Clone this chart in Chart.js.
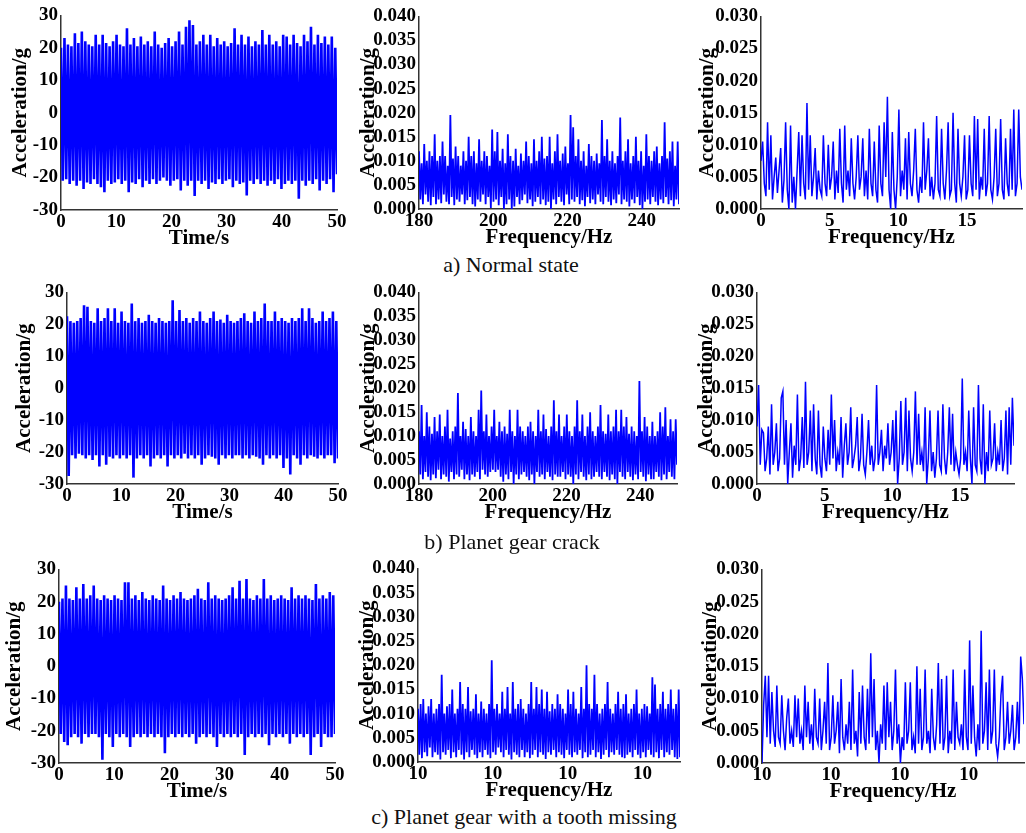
<!DOCTYPE html>
<html>
<head>
<meta charset="utf-8">
<script src="https://cdn.jsdelivr.net/npm/chart.js@4.4.1/dist/chart.umd.min.js"></script>
<style>
  body { margin: 0; background: #fff; width: 1026px; height: 833px; position: relative; overflow: hidden;
         font-family: "Liberation Serif", "Times New Roman", serif; }
  canvas { position: absolute; }
  .cap { position: absolute; font-size: 22px; white-space: nowrap; transform: translateX(-50%); color: #111; }
</style>
</head>
<body>
<canvas id="a1"></canvas><canvas id="a2"></canvas><canvas id="a3"></canvas>
<canvas id="b1"></canvas><canvas id="b2"></canvas><canvas id="b3"></canvas>
<canvas id="c1"></canvas><canvas id="c2"></canvas><canvas id="c3"></canvas>
<div class="cap" style="left:511px;top:252px">a) Normal state</div>
<div class="cap" style="left:512px;top:529px">b) Planet gear crack</div>
<div class="cap" style="left:524px;top:804px">c) Planet gear with a tooth missing</div>
<script>
// tick values / labels
const timeTicks = [0, 10, 20, 30, 40, 50];
const meshTicks = [180, 200, 220, 240];
const lowTicks = [0, 5, 10, 15];
const missingToothTickLabels = ['10', '10', '10', '10'];

// time signals, g (peak / trough samples over 0-50 s)
const normalTime = [
  20,-21,23,-20.5,21,-22,20.5,-21,24.5,-22.5,21.5,-21,25,-23.5,22,-21.5,21,-22,20.5,-20.5,
  24,-22,21,-23,24,-24.5,21.5,-21,20.5,-22,22,-21.5,24,-20.5,21,-22,20.5,-21,26,-24.5,
  21,-21.5,23,-22,20.5,-20.5,23.5,-23,21,-21,22,-22,20.5,-20.5,25,-22,21,-21,20,-20,
  21.5,-21,23,-22.5,20.5,-21,22,-20.5,25,-24,21,-21,26.5,-22.5,28.5,-21,27,-25.7,21,-21,
  22,-22,24,-21,21,-23.5,24,-21.5,20.5,-22,23,-20.5,21,-22,22,-21,20.5,-20.5,21.5,-23,
  26,-21,21,-22,24,-21.5,21,-25.5,23.5,-21,20.5,-22,22,-20.5,21,-22,25.5,-21,21,-22.5,
  24,-21,21,-22,22,-20.5,20.5,-23.5,24,-22,23.5,-21,21,-22,24,-21,21.5,-26.5,20.5,-21,
  24,-22.5,22,-21,26.5,-22,21,-20.5,24,-24,21.5,-21,23.5,-22,21,-20.5,23.5,-24.5,20,-19
];
const crackTime = [
  22.5,-27.5,21,-21,20.5,-22,21,-20.5,22,-21,26,-22,25.5,-21,21,-22.5,20.5,-21,25,-24.5,
  21,-21,22,-24,25,-21.5,21,-22,25,-21,20.5,-22,24,-21,21,-22,20.5,-21,26.5,-28,
  21,-22,22,-21,20.5,-22,21,-21,23,-24.5,21,-22,20.5,-21,22,-22,21,-21,20.5,-24.5,
  21,-21,27.5,-22,21,-21,24.5,-22,21,-20.5,22,-22,20.5,-21,22,-22,21,-21,24,-24,
  21,-22,20.5,-21,22,-21.5,24,-22,21,-24,21.5,-21,20.5,-22,23,-21,21,-22,20.5,-21,
  21,-21,22,-22,23.5,-21,21,-22,20.5,-21,24,-21.5,21,-22,22,-24,26.5,-21,21,-22,
  21,-21,24,-22,21,-21,22,-25,21,-22,20.5,-27,22,-21,21,-22,22,-24,25,-21,
  21,-22,25,-21,22,-21.5,20.5,-22,21,-21,24,-22,21,-21,22,-21,24,-23.5,21,-22
];
const missingTime = [
  20,-21,21,-23.5,25,-24.5,21,-22,20.5,-21,24.5,-22,21,-24,25.5,-21,21,-22,22,-21,
  25,-21,21,-22,20.5,-29,22,-21,21,-22,20.5,-25,22,-21,21,-22,20.5,-21,26,-22,
  26,-25,21,-22,22,-21,20.5,-22,23,-21,21,-22,20.5,-21,22,-22,21,-21,20.5,-22,
  25,-27,21,-22,20.5,-21,22,-22,21,-21,23,-22,21,-21,20.5,-22,21,-21,22,-24,
  24,-22,21,-21,20.5,-22,26,-21,21,-22,22,-25,21,-21,20.5,-22,21,-21,22,-22,
  24.5,-21,21,-22,26.5,-21,21,-27.5,27,-22,21,-21,20.5,-22,22,-21,21,-22,27,-21,
  21,-24.5,22,-21,20.5,-22,21,-21,22,-22,21,-21,20.5,-24,24.5,-21,21,-22,22,-21,
  21,-22,22,-21,21,-27.5,20.5,-22,25.5,-21,21,-25,22,-21,21,-22,23,-22,22,-21
];

// spectra 180-250 Hz, mg
const normalMesh = [
  12,2,9.5,1,13.5,3,10,1.5,12,0.8,11,2.5,15.5,1,10,2,11,1.2,14,3,
  11,1.5,9,1,19.5,2.5,10.5,0.8,13,2,11,1.5,9,3,12,1,10,1.8,15,2.5,
  11,1,12,0.5,9.5,2,14.5,1.5,10,3,12,1,11,2.5,9,0.2,16.5,1.5,12,2,
  16,0.8,10,2.5,12.5,0,9.5,1,15.5,2,11,0,10,0.5,12.5,2.5,9,1,11.5,1.8,
  10,3,14,1.2,11,2,9.5,0.6,14.5,1.5,10,2.5,12,1,15,2,10.5,0.8,11,1.5,
  15,0,9.5,2,12,1,15.5,2.5,10,1.5,11.5,0.8,13,3,9.5,1,19.5,2,17,1.5,
  11,2.5,14.5,1,10,1.8,12,0.6,9,2.5,13.5,1.2,11,2,10,1,11.5,3,9.5,1.5,
  18.5,1,11,2.5,14.5,1.5,10,0.8,12,2,9.5,1.2,11,3,19,1,10,2,12,1.5,
  14.5,0.5,9.5,2,11,1.2,15,2.5,10,0.8,12,0,9,1.5,15.5,2,11,1,10,2.5,
  12,1.5,13,0.8,9.5,2,11,1.2,18,2.5,10.5,1,12,1.8,14,0.6,9,2,14,1
];
const crackMesh = [
  11,2,16.5,1,10,2.5,15,1.5,12,0.8,10.5,2,14,1.2,11,3,14.5,1,10,2,
  12,1.5,15.5,0.5,9.5,2.5,11,1,12,2,19,1.5,10,3,13,1,11.5,2,10,0.8,
  14,2,11,1.5,10,2.5,15.5,1,19.5,3,11,2,14.5,1.5,10,2.5,12,3,15.5,2.5,
  10,3,13,1.5,11,0.5,12,2,10.5,1,15.5,2.5,11,0,10,2,15.5,1,12,2,
  11,2.5,10,1.5,12,0.8,13,2,11,0,10,2.5,15.5,1.5,11,2,14.5,1,11.5,2.5,
  10,1.5,12,0.8,17.5,2,11,1.5,14.5,1.5,10,2.5,12,1,14.5,2,11,1.5,10,0,
  12,2,17.5,1,11,2.5,14.5,1.5,10,0.8,12,2,15,1,11,1.5,10,2.5,12,1.5,
  16.5,1,11,2.5,10.5,1.5,14.5,0.8,11,2,12,1,15.5,0,11,2.5,15.5,1.5,12,1,
  14,2.5,10.5,1.5,12,0.8,11,2,10,1,21.5,2.5,11,1.5,14,0.6,12,2,10,1,
  13,1,10,2.5,11,1.5,15,0.8,12,2,16,1,10,2.5,13.5,1.5,11,1,13.5,4
];
const missingMesh = [
  11,1.5,12,0.8,13,2,10,1.2,11.5,3,13,1,10,2,11,1.5,12,0.5,18,2,
  10,1.5,11.5,2.5,12,0.8,15,2,10,1,11,2.5,16.5,1.5,12,0.5,11,2,15.5,1,
  10.5,2.5,11,1.5,14,0.8,10,2,12.5,1,11,2.5,10,1.5,12,0.8,21,2,11,1.5,
  12,3,10,2,14.5,1,11,2.5,15.5,1.5,10,0.5,16.5,2,11,1.5,12,1,13,2.5,
  11,1,10,2,12,0.8,16.5,1.5,11,2.5,15.5,1,12,2,15,1.5,11,0.6,14.5,2,
  10.5,1.5,12,2.5,11,1,14,2,12,1.5,11,0.8,10,2.5,15,1.5,12,1,14.5,2,
  11,1.5,10,2.5,15.5,0.8,11,2,20,1,12,1.5,11,2.5,18,1,12,2,10,0.6,
  11,1.5,12,2.5,16.5,1,11,2,10,1.5,12,2.5,14.5,1.5,11,1,12,0.8,14,1.5,
  10,2,11,1,12,2.5,15,1.5,10,0.8,11,2,12,1,11.5,2.5,10,1.5,17.5,1,
  16,2,11,0.8,12,2.5,14.5,1,11,2,12,1.5,15,2.5,11,1,12,0.6,15,1
];

// spectra 0-19 Hz, mg
const normalLow = [
  7.5,10.5,4,2,13.5,3,11.5,1.5,5,8,2.5,6,9.5,1,4.5,13.5,3,0,13,1,
  5,0,6,12,2,11.5,4,1.5,16.5,3,11.5,2,5,9.5,1.5,6,3,2,11.5,4,
  2,10,3,5,10.5,1.5,6,2.5,12.5,4,1,13,3,6,2,11,4,1.5,5,11.5,
  3,5,11,2,6,1.5,12.5,4,2,10.5,3,1,13,4,2,13.5,5,17.5,3,0,
  12,3,0,5,15.5,2,6,3,11,1.5,12,4,2,6,12.5,3,1,5,2.5,13.5,
  3,6,11,2,5,1.5,4,14.5,3,2,12.5,4,1.5,6,13.5,2,3,15,4,1,
  12.5,4,2,5,11.5,1.5,3,11.5,4,2,14.5,3,14,1.5,5,3,12.5,2,4,14.5,
  3,1.5,5,12.5,2,4,14,3,1.5,11,4,2,12.5,3,15.5,2,4,15.5,5,3
];
const crackLow = [
  9,15.5,3,8.5,8,2,4,9,1.5,12.5,3,5,9.5,2,4,13.5,14.5,3,10,0,
  5,9.5,1,6,3,14,2,4,10.5,2.5,16,3,5,11.5,2,12.5,4,1.5,11.5,3,
  1,9,4,2,8.5,3,14,4,10,2,5,3,10.5,1,6,9.5,3,5,12,2.5,
  4,6,10.5,2,4,11,3,1.5,5,10,3,6,2,4,15.5,3,5,8.5,2,6,
  4,9.5,3,5,10,2,11.5,0,4,13,3,5,13.5,2,11.5,4,2,5,14.5,3,
  11,3,5,2,12,0,4,11.5,2,5,1,4,11.5,3,2,12.5,4,1.5,5,12,
  3,11,2,5,3,1.5,4,16.5,3,5,2,11.5,4,0,12,3,2,15.5,4,1.5,
  12.5,0,5,2,11.5,3,4,9.5,2,5,3,10,2,4,11.5,1.5,12,3,13.5,6
];
const missingLow = [
  0,9,13.5,4,13.5,3,11,5,2.5,12,4,3,10.5,5,2,7,10,3,5,2.5,
  10.5,4,10,3,5,2,12,4,9.5,3,6,2,11.5,4,3,10,2,5,9.5,3,
  15.5,2,4,10.5,3,5,9.5,1.5,13,4,2,6,3,9.5,2,14.5,3,5,1,11,
  3,12,4,2,11.5,3,17,4,13,2,5,0,6,3,12,2,12.5,4,9.5,2,
  5,14.5,3,6,0,4,2,12.5,3,5,12.5,2,4,1.5,15,3,11.5,2,4,14.5,
  3,5,1.5,11.5,4,2,6,15.5,3,13,2,4,13.5,1.5,5,3,14.5,2,9.5,4,
  3,6,2,14.5,4,2,19,3,12,4,1,6,2,20.5,3,5,12.5,2,14.5,3,
  5,14.5,3,1,4,10.5,13.5,2,4,9.5,3,5,9,2,4,9.5,3,16.5,13,6
];

const BLUE = '#0000ff';
const AXIS = '#333333';
const PAD_T = 12, PAD_R = 14, AX_H = 41;
const serif = '"Liberation Serif", "Times New Roman", serif';

function series(values, x0, x1, scale) {
  const n = values.length;
  return values.map((v, i) => ({ x: x0 + (x1 - x0) * i / (n - 1), y: v * scale }));
}

function panel(id, box, axW, cfg) {
  const [l, t, r, b] = box;
  const cv = document.getElementById(id);
  const w = r - l + axW + PAD_R, h = b - t + PAD_T + AX_H;
  cv.width = w; cv.height = h;
  cv.style.left = (l - axW) + 'px';
  cv.style.top = (t - PAD_T) + 'px';
  new Chart(cv.getContext('2d'), {
    type: 'line',
    data: { datasets: [{
      data: series(cfg.values, cfg.xMin, cfg.xMax, cfg.scale),
      borderColor: BLUE, borderWidth: cfg.lw, pointRadius: 0, tension: 0, fill: false
    }] },
    options: {
      responsive: false, animation: false, devicePixelRatio: 1,
      layout: { padding: { top: PAD_T, right: PAD_R, left: 0, bottom: 0 } },
      plugins: { legend: { display: false }, tooltip: { enabled: false } },
      scales: {
        x: {
          type: 'linear', min: cfg.xMin, max: cfg.xMax,
          afterBuildTicks: s => { s.ticks = cfg.xTicks.map(v => ({ value: v })); },
          afterFit: s => { s.height = AX_H; },
          grid: { display: false, drawTicks: false },
          border: { display: true, color: AXIS, width: 1.5 },
          ticks: {
            autoSkip: false, maxRotation: 0, padding: 1, color: '#000',
            font: { family: serif, size: 19, weight: 'bold' },
            callback: (v, i) => cfg.xLabels ? cfg.xLabels[i] : String(v)
          },
          title: { display: true, text: cfg.xTitle, color: '#000', padding: 0,
                   font: { family: serif, size: 21, weight: 'bold' } }
        },
        y: {
          min: cfg.yMin, max: cfg.yMax,
          afterFit: s => { s.width = axW; },
          grid: { display: false, drawTicks: false },
          border: { display: true, color: AXIS, width: 1.5 },
          ticks: {
            autoSkip: false, stepSize: cfg.yStep, padding: 3, color: '#000',
            font: { family: serif, size: 19, weight: 'bold' },
            callback: v => v.toFixed(cfg.yDec)
          },
          title: { display: true, text: 'Acceleration/g', color: '#000', padding: 0,
                   font: { family: serif, size: 21, weight: 'bold' } }
        }
      }
    }
  });
}

const timeCfg = v => ({ values: v, scale: 1, lw: 2.6, xMin: 0, xMax: 50, xTicks: timeTicks,
  xTitle: 'Time/s', yMin: -30, yMax: 30, yStep: 10, yDec: 0 });
const meshCfg = (v, lab) => ({ values: v, scale: 0.001, lw: 1.8, xMin: 180, xMax: 250, xTicks: meshTicks,
  xLabels: lab, xTitle: 'Frequency/Hz', yMin: 0, yMax: 0.04, yStep: 0.005, yDec: 3 });
const lowCfg = (v, lab) => ({ values: v, scale: 0.001, lw: 1.5, xMin: 0, xMax: 19, xTicks: lowTicks,
  xLabels: lab, xTitle: 'Frequency/Hz', yMin: 0, yMax: 0.03, yStep: 0.005, yDec: 3 });

panel('a1', [61, 13, 337, 210], 53, timeCfg(normalTime));
panel('a2', [419, 14, 679, 209], 63, meshCfg(normalMesh));
panel('a3', [761, 14, 1022, 209], 66, lowCfg(normalLow));

panel('b1', [67, 290, 338, 484], 55, timeCfg(crackTime));
panel('b2', [419, 290, 677, 484], 63, meshCfg(crackMesh));
panel('b3', [757, 290, 1014, 484], 63, lowCfg(crackLow));

panel('c1', [59, 567, 335, 763], 57, timeCfg(missingTime));
panel('c2', [418, 566, 680, 762], 63, meshCfg(missingMesh, missingToothTickLabels));
panel('c3', [762, 567, 1024, 763], 64, lowCfg(missingLow, missingToothTickLabels));
</script>
</body>
</html>
